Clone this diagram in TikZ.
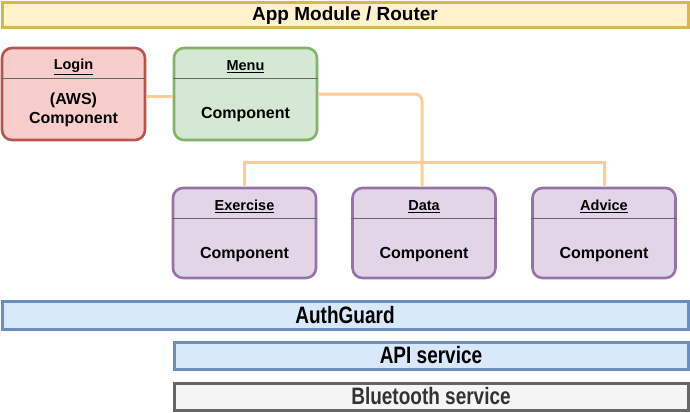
\documentclass[tikz,border=0pt]{standalone}
\usepackage{fontspec}
\setmainfont{Liberation Sans}
\usetikzlibrary{positioning}

\definecolor{appfill}{HTML}{FFF2CC}   \definecolor{appdraw}{HTML}{D6B656}
\definecolor{loginfill}{HTML}{F8CECC} \definecolor{logindraw}{HTML}{B85450}
\definecolor{menufill}{HTML}{D5E8D4}  \definecolor{menudraw}{HTML}{82B366}
\definecolor{compfill}{HTML}{E1D5E7}  \definecolor{compdraw}{HTML}{9673A6}
\definecolor{svcfill}{HTML}{DAE8FC}   \definecolor{svcdraw}{HTML}{6C8EBF}
\definecolor{btfill}{HTML}{F5F5F5}    \definecolor{btdraw}{HTML}{666666}
\definecolor{bttext}{HTML}{333333}    \definecolor{linkcol}{HTML}{FFCC99}

\newcommand{\tall}[1]{\raisebox{-2.5pt}{\scalebox{1}[1.25]{#1}}}

\begin{document}
\begin{tikzpicture}[
    x=1pt, y=-1pt,
    font=\bfseries,
    card/.style={draw, rounded corners=10pt, line width=2.6pt, minimum width=143pt, inner sep=0pt},
    login/.style={card, fill=loginfill, draw=logindraw, minimum height=92pt},
    menu/.style={card, fill=menufill, draw=menudraw, minimum height=92pt},
    comp/.style={card, fill=compfill, draw=compdraw, minimum height=90pt},
    title/.style={font=\fontsize{14.5}{16}\selectfont\bfseries, inner sep=0pt},
    body/.style={font=\fontsize{16}{19}\selectfont\bfseries, align=center, inner sep=0pt},
    divider/.style={draw=black!60, line width=1.2pt},
    bar/.style={draw, line width=3pt, inner sep=0pt, font=\fontsize{19}{22}\selectfont\bfseries},
    link/.style={draw=linkcol, line width=3pt},
  ]
  \useasboundingbox (0,0) rectangle (690,412);

  % Router bar on top
  \node[bar, fill=appfill, draw=appdraw, minimum width=686pt, minimum height=25pt] (app) at (345,15.5) {App Module / Router};

  % First row: login and menu
  \node[login] (login) at (73.5,94) {};
  \node[menu]  (menu)  at (245.5,94) {};

  % Second row: pages opened from the menu
  \node[comp] (exercise) at (244.5,233) {};
  \node[comp] (data)     at (424,233) {};
  \node[comp] (advice)   at (604,233) {};

  % Header lines and texts of the cards
  \foreach \c/\t in {login/Login, menu/Menu, exercise/Exercise, data/Data, advice/Advice} {
    \draw[divider] ([yshift=-32pt]\c.north west) -- ([yshift=-32pt]\c.north east);
    \node[title] (\c-title) at ([yshift=-20pt]\c.north) {\underline{\t}};
  }
  \node[body] (login-body) at ([yshift=-63pt]login.north) {(AWS)\\Component};
  \node[body] (menu-body)  at ([yshift=-68pt]menu.north) {Component};
  \foreach \c in {exercise, data, advice}
    \node[body] (\c-body) at ([yshift=-68pt]\c.north) {Component};

  % Connectors
  \coordinate (bus) at (0,162);
  \draw[link] ([yshift=-2pt]login.east) -- ([yshift=-2pt]menu.west);
  \draw[link, rounded corners=7pt] (menu.east) -| ([xshift=-2pt]data.north);
  \draw[link] (exercise.north) -- (exercise.north |- bus) -- (advice.north |- bus) -- (advice.north);

  % Guard and services at the bottom
  \node[bar, fill=svcfill, draw=svcdraw, minimum width=686pt, minimum height=28pt] (guard) at (345,315)
    {\tall{AuthGuard}};
  \node[bar, fill=svcfill, draw=svcdraw, minimum width=514pt, minimum height=27pt] (api) at (431,355.5)
    {\tall{API service}};
  \node[bar, fill=btfill, draw=btdraw, text=bttext, minimum width=514pt, minimum height=27pt] (bt) at (431,396.5)
    {\tall{Bluetooth service}};

\end{tikzpicture}
\end{document}
